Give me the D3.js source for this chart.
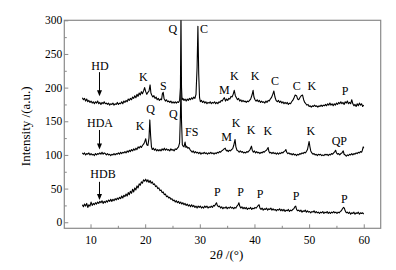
<!DOCTYPE html>
<html><head><meta charset="utf-8">
<script src="https://cdn.jsdelivr.net/npm/d3@7"></script>
<style>
html,body{margin:0;padding:0;background:#fff;}
svg text{font-family:"Liberation Serif","Times New Roman",Times,"Nimbus Roman","DejaVu Serif",serif !important;fill:#000;}
</style></head>
<body><svg id="c" width="396" height="270"></svg>
<script>
// ---------- data ----------
const xTicks = [10,20,30,40,50,60];
const xMinor = [15,25,35,45,55];
const yTicks = [0,50,100,150,200,250,300];
const yMinor = [25,75,125,175,225,275];
const xLabel = "2θ /(°)";
const yLabel = "Intensity /(a.u.)";

const hd = [[8.5,185],[8.7,182],[8.9,184],[9.1,180],[9.3,183],[9.5,179],[9.7,181],[9.9,178],[10.1,180],[10.3,177],[10.5,179],[10.7,176],[10.9,179],[11.1,177],[11.3,180],[11.5,176],[11.7,178],[11.9,175],[12.1,178],[12.3,176],[12.5,179],[12.7,176],[12.9,177],[13.1,175],[13.3,177],[13.5,174],[13.7,176],[13.9,175],[14.1,177],[14.3,174],[14.5,176],[14.7,175],[14.9,178],[15.1,175],[15.3,177],[15.5,176],[15.7,179],[15.9,176],[16.1,180],[16.3,178],[16.5,181],[16.7,179],[16.9,183],[17.1,181],[17.3,184],[17.5,182],[17.7,186],[17.9,184],[18.1,188],[18.3,185],[18.5,190],[18.7,187],[18.9,192],[19.1,189],[19.3,194],[19.5,191],[19.7,195],[19.9,200],[20.1,194],[20.3,190],[20.5,193],[20.7,195],[20.9,204],[21.05,192],[21.2,189],[21.4,186],[21.6,188],[21.8,184],[22.0,186],[22.2,182],[22.4,184],[22.6,181],[22.8,183],[23.0,182],[23.15,191],[23.3,193],[23.45,184],[23.7,180],[23.9,182],[24.1,179],[24.3,180],[24.5,178],[24.7,180],[24.9,177],[25.1,179],[25.3,177],[25.5,179],[25.7,177],[25.9,179],[26.1,178],[26.3,181],[26.45,200],[26.55,310],[26.65,200],[26.75,182],[26.9,184],[27.1,181],[27.3,183],[27.5,180],[27.7,183],[27.9,181],[28.1,184],[28.3,182],[28.5,185],[28.7,183],[28.9,186],[29.1,184],[29.3,190],[29.5,230],[29.65,291],[29.8,220],[29.95,185],[30.1,179],[30.3,181],[30.5,178],[30.7,180],[30.9,177],[31.1,179],[31.3,176],[31.5,178],[31.7,177],[31.9,179],[32.1,176],[32.3,178],[32.5,177],[32.7,179],[32.9,176],[33.1,178],[33.3,176],[33.5,179],[33.7,178],[33.9,181],[34.1,180],[34.3,183],[34.5,185],[34.7,180],[34.9,183],[35.1,181],[35.3,184],[35.5,183],[35.7,187],[35.9,186],[36.1,190],[36.3,196],[36.5,188],[36.7,185],[36.9,182],[37.1,184],[37.3,180],[37.5,182],[37.7,179],[37.9,181],[38.1,179],[38.3,180],[38.5,178],[38.7,180],[38.9,179],[39.1,181],[39.3,183],[39.55,189],[39.75,196],[39.9,186],[40.1,182],[40.3,180],[40.5,182],[40.7,179],[40.9,181],[41.1,178],[41.3,180],[41.5,178],[41.7,179],[41.9,177],[42.1,180],[42.3,178],[42.5,181],[42.7,180],[42.9,183],[43.1,185],[43.35,190],[43.55,195],[43.75,186],[43.95,181],[44.2,179],[44.4,181],[44.6,178],[44.8,180],[45.0,177],[45.2,179],[45.4,176],[45.6,178],[45.8,176],[46.0,178],[46.2,175],[46.4,177],[46.6,176],[46.8,179],[47.0,181],[47.2,184],[47.45,189],[47.7,188],[47.9,183],[48.1,182],[48.3,185],[48.55,188],[48.8,189],[49.0,182],[49.2,178],[49.4,176],[49.6,174],[49.8,175],[50.0,172],[50.2,173],[50.4,171],[50.6,173],[50.8,172],[51.0,174],[51.2,172],[51.4,173],[51.6,171],[51.8,173],[52.0,172],[52.2,174],[52.4,172],[52.6,174],[52.8,173],[53.0,175],[53.2,173],[53.4,176],[53.6,174],[53.8,177],[54.0,174],[54.2,176],[54.4,173],[54.6,176],[54.8,174],[55.0,177],[55.2,175],[55.4,178],[55.6,176],[55.8,179],[56.0,176],[56.2,178],[56.4,175],[56.6,179],[56.8,177],[57.0,180],[57.2,176],[57.4,178],[57.6,176],[57.8,182],[58.0,176],[58.2,173],[58.4,175],[58.6,172],[58.8,176],[59.0,173],[59.2,177],[59.4,174],[59.6,176],[59.8,172],[60.0,174]];

const hda = [[8.5,103],[8.7,101],[8.9,103],[9.1,100],[9.3,102],[9.5,101],[9.7,103],[9.9,100],[10.1,102],[10.3,100],[10.5,101],[10.7,99],[10.9,102],[11.1,100],[11.3,102],[11.5,101],[11.7,103],[11.9,101],[12.1,104],[12.3,101],[12.5,103],[12.7,102],[12.9,100],[13.1,102],[13.3,100],[13.5,101],[13.7,99],[13.9,101],[14.1,100],[14.3,102],[14.5,100],[14.7,102],[14.9,101],[15.1,103],[15.3,101],[15.5,104],[15.7,102],[15.9,104],[16.1,103],[16.3,105],[16.5,103],[16.7,106],[16.9,104],[17.1,107],[17.3,105],[17.5,108],[17.7,106],[17.9,109],[18.1,107],[18.3,110],[18.5,108],[18.7,112],[18.9,110],[19.1,113],[19.3,111],[19.5,114],[19.7,116],[19.9,119],[20.1,124],[20.3,115],[20.5,114],[20.7,125],[20.85,152],[21.0,128],[21.15,112],[21.3,108],[21.5,110],[21.7,107],[21.9,109],[22.1,106],[22.3,108],[22.5,106],[22.7,108],[22.9,106],[23.1,109],[23.3,107],[23.5,110],[23.7,107],[23.9,109],[24.1,107],[24.3,108],[24.5,106],[24.7,109],[24.9,107],[25.1,108],[25.3,106],[25.5,109],[25.7,108],[25.9,110],[26.1,112],[26.3,118],[26.45,160],[26.55,200],[26.65,150],[26.8,115],[26.95,113],[27.1,112],[27.3,119],[27.45,111],[27.6,113],[27.8,110],[28.0,111],[28.2,108],[28.4,106],[28.6,104],[28.8,106],[29.0,103],[29.2,105],[29.4,103],[29.6,104],[29.8,102],[30.0,104],[30.2,101],[30.4,103],[30.6,102],[30.8,104],[31.0,102],[31.2,103],[31.4,101],[31.6,103],[31.8,102],[32.0,104],[32.2,102],[32.4,103],[32.6,101],[32.8,103],[33.0,102],[33.2,104],[33.4,103],[33.6,105],[33.8,104],[34.0,106],[34.2,107],[34.45,109],[34.65,110],[34.85,106],[35.0,107],[35.2,105],[35.4,107],[35.6,106],[35.8,108],[36.0,109],[36.2,114],[36.45,123],[36.6,112],[36.8,107],[37.0,106],[37.2,104],[37.4,106],[37.6,104],[37.8,105],[38.0,103],[38.2,104],[38.4,103],[38.6,105],[38.8,104],[39.0,106],[39.2,108],[39.45,113],[39.6,107],[39.8,104],[40.0,106],[40.2,103],[40.4,105],[40.6,103],[40.8,104],[41.0,102],[41.2,104],[41.4,103],[41.6,105],[41.8,104],[42.0,106],[42.2,107],[42.5,111],[42.65,105],[42.8,103],[43.0,104],[43.2,102],[43.4,104],[43.6,102],[43.8,103],[44.0,101],[44.2,103],[44.4,101],[44.6,103],[44.8,102],[45.0,104],[45.2,103],[45.4,105],[45.6,106],[45.75,108],[45.9,104],[46.1,102],[46.3,103],[46.5,101],[46.7,102],[46.9,100],[47.1,102],[47.3,100],[47.5,101],[47.7,99],[47.9,101],[48.1,100],[48.3,102],[48.5,101],[48.7,103],[48.9,102],[49.1,104],[49.3,103],[49.5,105],[49.7,108],[49.85,114],[50.0,120],[50.15,112],[50.3,106],[50.5,103],[50.7,101],[50.9,102],[51.1,100],[51.3,101],[51.5,99],[51.7,101],[51.9,100],[52.1,101],[52.3,99],[52.5,100],[52.7,99],[52.9,101],[53.1,100],[53.3,101],[53.5,99],[53.7,101],[53.9,100],[54.1,102],[54.3,101],[54.5,103],[54.7,105],[54.85,107],[55.0,103],[55.2,101],[55.4,102],[55.6,100],[55.8,102],[56.0,103],[56.25,106],[56.4,101],[56.6,100],[56.8,98],[57.0,100],[57.2,99],[57.4,101],[57.6,100],[57.8,102],[58.0,100],[58.2,102],[58.4,101],[58.6,103],[58.8,102],[59.0,104],[59.2,103],[59.4,105],[59.6,104],[59.75,107],[59.9,112],[60.0,110]];

const hdb = [[8.5,26],[8.7,23],[8.9,27],[9.1,24],[9.3,28],[9.5,22],[9.7,26],[9.9,24],[10.1,30],[10.3,25],[10.5,28],[10.7,26],[10.9,29],[11.1,27],[11.3,30],[11.5,28],[11.7,31],[11.9,29],[12.1,32],[12.3,28],[12.5,31],[12.7,29],[12.9,32],[13.1,30],[13.3,33],[13.5,31],[13.7,34],[13.9,31],[14.1,34],[14.3,32],[14.5,35],[14.7,33],[14.9,36],[15.1,34],[15.3,37],[15.5,35],[15.7,39],[15.9,36],[16.1,40],[16.3,38],[16.5,42],[16.7,39],[16.9,44],[17.1,41],[17.3,46],[17.5,43],[17.7,49],[17.9,45],[18.1,51],[18.3,48],[18.5,54],[18.7,51],[18.9,57],[19.1,55],[19.3,60],[19.5,58],[19.7,63],[19.9,61],[20.1,64],[20.3,60],[20.5,63],[20.7,59],[20.9,62],[21.1,58],[21.3,60],[21.5,56],[21.7,57],[21.9,53],[22.1,54],[22.3,50],[22.5,51],[22.7,47],[22.9,48],[23.1,44],[23.3,45],[23.5,41],[23.7,42],[23.9,38],[24.1,39],[24.3,36],[24.5,37],[24.7,34],[24.9,35],[25.1,32],[25.3,33],[25.5,30],[25.7,32],[25.9,29],[26.1,31],[26.3,28],[26.5,30],[26.7,27],[26.9,29],[27.1,26],[27.3,28],[27.5,25],[27.7,27],[27.9,24],[28.1,26],[28.3,23],[28.5,26],[28.7,23],[28.9,25],[29.1,22],[29.3,24],[29.5,21],[29.7,24],[29.9,22],[30.1,24],[30.3,21],[30.5,23],[30.7,21],[30.9,24],[31.1,22],[31.3,24],[31.5,21],[31.7,23],[31.9,22],[32.1,24],[32.3,22],[32.5,25],[32.7,24],[32.9,27],[33.05,29],[33.2,25],[33.4,23],[33.6,24],[33.8,21],[34.0,23],[34.2,20],[34.4,22],[34.6,21],[34.8,23],[35.0,20],[35.2,22],[35.4,21],[35.6,23],[35.8,21],[36.0,22],[36.2,20],[36.4,22],[36.6,21],[36.8,24],[37.0,26],[37.15,29],[37.3,24],[37.5,21],[37.7,23],[37.9,20],[38.1,22],[38.3,20],[38.5,22],[38.7,19],[38.9,21],[39.1,20],[39.3,22],[39.5,19],[39.7,21],[39.9,20],[40.1,22],[40.3,21],[40.5,23],[40.7,25],[40.85,26],[41.0,21],[41.2,19],[41.4,21],[41.6,18],[41.8,20],[42.0,19],[42.2,21],[42.4,18],[42.6,20],[42.8,19],[43.0,21],[43.2,18],[43.4,20],[43.6,18],[43.8,19],[44.0,17],[44.2,19],[44.4,18],[44.6,20],[44.8,17],[45.0,19],[45.2,17],[45.4,19],[45.6,16],[45.8,18],[46.0,17],[46.2,19],[46.4,16],[46.6,18],[46.8,17],[47.0,19],[47.2,20],[47.4,23],[47.55,24],[47.7,19],[47.9,17],[48.1,18],[48.3,16],[48.5,18],[48.7,15],[48.9,17],[49.1,16],[49.3,18],[49.5,15],[49.7,17],[49.9,15],[50.1,16],[50.3,14],[50.5,16],[50.7,15],[50.9,17],[51.1,14],[51.3,16],[51.5,14],[51.7,15],[51.9,13],[52.1,15],[52.3,14],[52.5,16],[52.7,13],[52.9,15],[53.1,14],[53.3,16],[53.5,13],[53.7,15],[53.9,13],[54.1,15],[54.3,14],[54.5,16],[54.7,14],[54.9,15],[55.1,13],[55.3,15],[55.5,14],[55.7,16],[55.9,17],[56.1,20],[56.3,22],[56.45,21],[56.6,17],[56.8,14],[57.0,15],[57.2,13],[57.4,15],[57.6,12],[57.8,14],[58.0,13],[58.2,15],[58.4,12],[58.6,14],[58.8,13],[59.0,15],[59.2,12],[59.4,14],[59.6,13],[59.8,14],[60.0,12]];

// annotations: [text, 2θ, intensity] (text centre / baseline)
const hdLabels = [["HD",11.73,226],["K",19.66,210],["S",23.32,196],["Q",25.04,281],["C",30.77,281],["M",34.48,190],["K",36.31,211],["K",40.1,211],["C",43.76,204],["C",47.73,196],["K",50.48,196],["P",56.57,189]];
const hdaLabels = [["HDA",11.73,141],["K",19.05,137],["Q",21.01,162],["Q",25.15,155],["FS",28.52,128],["M",34.92,120],["K",36.62,142],["K",39.37,131],["K",42.43,130],["K",50.3,130],["QP",55.53,115]];
const hdbLabels = [["HDB",12.28,66],["P",33.2,39],["P",37.48,39],["P",41.02,36],["P",47.6,33],["P",56.44,28.5]];
// arrows: [2θ, from intensity, to intensity]
const arrows = [[11.64,223,187],[11.64,137,108],[11.64,60,33]];

// ---------- chart ----------
const FONT = '"Liberation Serif","Times New Roman",Times,"Nimbus Roman","DejaVu Serif",serif';
const svg = d3.select("#c");
const x = d3.scaleLinear().domain([5.2,63.1]).range([64.3,380.7]);
const y = d3.scaleLinear().domain([-9,300]).range([228.3,20.3]);
const axisCol = "#8a8a8a";

svg.append("defs").append("clipPath").attr("id","clip")
  .append("rect").attr("x",x.range()[0]).attr("y",y.range()[1])
  .attr("width",x.range()[1]-x.range()[0]).attr("height",y.range()[0]-y.range()[1]);

svg.append("rect").attr("x",x.range()[0]).attr("y",y.range()[1])
  .attr("width",x.range()[1]-x.range()[0]).attr("height",y.range()[0]-y.range()[1])
  .attr("fill","none").attr("stroke",axisCol).attr("stroke-width",1.2);

const gx = svg.append("g").attr("transform",`translate(0,${y.range()[0]})`);
gx.call(d3.axisBottom(x).tickValues(xTicks).tickSizeInner(-4).tickSizeOuter(0).tickPadding(8));
gx.append("g").call(d3.axisBottom(x).tickValues(xMinor).tickSizeInner(-2.5).tickSizeOuter(0).tickFormat(""));
gx.selectAll(".domain").remove();
gx.selectAll("line").attr("stroke",axisCol);
gx.selectAll("text").attr("font-size",11.5).style("font-family",FONT).attr("fill","#000");

const gy = svg.append("g").attr("transform",`translate(${x.range()[0]},0)`);
gy.call(d3.axisLeft(y).tickValues(yTicks).tickSizeInner(-4).tickSizeOuter(0).tickPadding(2));
gy.append("g").call(d3.axisLeft(y).tickValues(yMinor).tickSizeInner(-2.5).tickSizeOuter(0).tickFormat(""));
gy.selectAll(".domain").remove();
gy.selectAll("line").attr("stroke",axisCol);
gy.selectAll("text").attr("font-size",11.5).style("font-family",FONT).attr("fill","#000");

const line = d3.line().x(d=>x(d[0])).y(d=>y(d[1]));
const plot = svg.append("g").attr("clip-path","url(#clip)");
[hd,hda,hdb].forEach(s=>{
  plot.append("path").datum(s).attr("d",line).attr("fill","none")
    .attr("stroke","#000").attr("stroke-width",1.1).attr("stroke-linejoin","round");
});

[...hdLabels,...hdaLabels,...hdbLabels].forEach(a=>{
  svg.append("text").attr("x",x(a[1])).attr("y",y(a[2])).attr("text-anchor","middle")
    .attr("font-size",12).style("font-family",FONT).text(a[0]);
});

arrows.forEach(a=>{
  const ax = x(a[0]), y1 = y(a[1]), y2 = y(a[2]);
  svg.append("line").attr("x1",ax).attr("x2",ax).attr("y1",y1).attr("y2",y2-4)
    .attr("stroke","#000").attr("stroke-width",1);
  svg.append("path").attr("d",`M${ax-2.5},${y2-6}L${ax+2.5},${y2-6}L${ax},${y2}Z`).attr("fill","#000");
});

svg.append("text").attr("transform",`translate(30,${(y.range()[0]+y.range()[1])/2+2}) rotate(-90)`)
  .attr("text-anchor","middle").attr("font-size",13).style("font-family",FONT).text(yLabel);
const xt = svg.append("text").attr("x",(x.range()[0]+x.range()[1])/2 + 4).attr("y",259)
  .attr("text-anchor","middle").attr("font-size",13).style("font-family",FONT);
xt.append("tspan").text("2");
xt.append("tspan").attr("font-style","italic").text("θ");
xt.append("tspan").text(" /(°)");
</script></body></html>
